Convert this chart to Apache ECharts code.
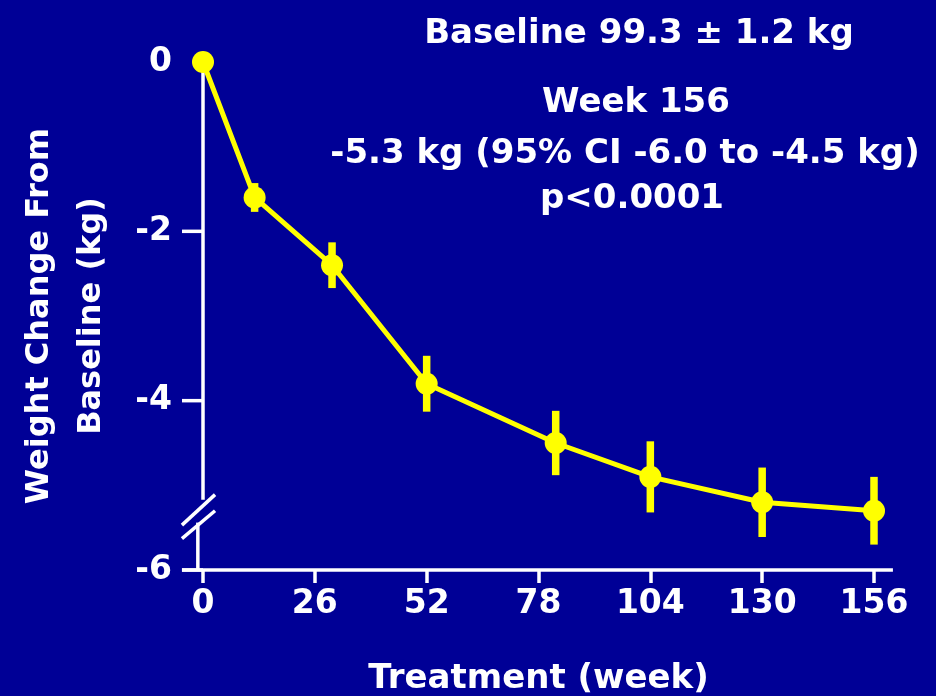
<!DOCTYPE html>
<html>
<head>
<meta charset="utf-8">
<script src="https://cdn.jsdelivr.net/npm/echarts@6/dist/echarts.min.js"></script>
<style>
  html, body { margin: 0; padding: 0; background: #000096; }
  #chart { width: 936px; height: 696px; }
</style>
</head>
<body>
<div id="chart"></div>
<script>
// Mean weight change from baseline (kg) by treatment week, with error bars
const weeks = [0, 12, 30, 52, 82, 104, 130, 156];
const weightChange = [0, -1.6, -2.4, -3.8, -4.5, -4.9, -5.2, -5.3];
const errorSize = [0, 0.17, 0.27, 0.33, 0.38, 0.42, 0.41, 0.40];

// Axis ticks
const xTicks = [0, 26, 52, 78, 104, 130, 156];
const yTicks = [0, -2, -4, -6];

// Annotation block
const notes = ['Baseline 99.3 \u00b1 1.2 kg', 'Week 156', '-5.3 kg (95% CI -6.0 to -4.5 kg)', 'p<0.0001'];

const BG = '#000096';
const FG = '#ffffff';
const YELLOW = '#ffff00';
const FONT = "'DejaVu Sans', sans-serif";

const chart = echarts.init(document.getElementById('chart'), null, { renderer: 'canvas' });

const lineData = weeks.map((w, i) => [w, weightChange[i]]);
const errData = weeks.map((w, i) => [w, weightChange[i], errorSize[i]]).filter(d => d[2] > 0);

// White axis frame with a break in the y axis just above -6
function renderFrame(params, api) {
  const c = (x, y) => api.coord([x, y]);
  const seg = (a, b) => ({
    type: 'line',
    shape: { x1: a[0], y1: a[1], x2: b[0], y2: b[1] },
    style: { stroke: FG, lineWidth: 3.5, lineCap: 'butt' }
  });
  const children = [
    seg(c(-4.9, -6), c(160.4, -6)),          // x axis line
    seg(c(0, 0), c(0, -5.17)),               // y axis above the break
    seg(c(-4.9, -5.47), c(2.8, -5.11)),      // break mark
    seg(c(-4.9, -5.63), c(2.8, -5.30)),      // break mark
    seg(c(-1.2, -5.44), c(-1.2, -6))         // y axis below the break
  ];
  yTicks.filter(v => v !== 0).forEach(v => {
    const p = c(0, v);
    children.push(seg([p[0] - 21, p[1]], [p[0], p[1]]));
  });
  return { type: 'group', children };
}

function renderError(params, api) {
  const x = api.value(0), y = api.value(1), e = api.value(2);
  const top = api.coord([x, y + e]);
  const bot = api.coord([x, y - e]);
  const w = 7.5;
  return {
    type: 'rect',
    shape: { x: top[0] - w / 2, y: top[1], width: w, height: bot[1] - top[1] },
    style: { fill: YELLOW }
  };
}

const noteX = [639, 636, 625, 632];
const noteY = [34, 103, 154, 199];

const option = {
  backgroundColor: BG,
  animation: false,
  grid: { left: 203, right: 62, top: 62, bottom: 126, containLabel: false, outerBoundsMode: 'none' },
  xAxis: {
    type: 'value',
    min: xTicks[0],
    max: xTicks[xTicks.length - 1],
    interval: 26,
    axisLine: { show: false, onZero: false },
    axisTick: { show: true, length: 13, lineStyle: { color: FG, width: 3.5 } },
    splitLine: { show: false },
    axisLabel: { color: FG, fontFamily: FONT, fontWeight: 'bold', fontSize: 33, margin: 18 },
    name: 'Treatment (week)',
    nameLocation: 'middle',
    nameGap: 92,
    nameTextStyle: { color: FG, fontFamily: FONT, fontWeight: 'bold', fontSize: 34 }
  },
  yAxis: {
    type: 'value',
    min: yTicks[yTicks.length - 1],
    max: yTicks[0],
    interval: 2,
    axisLine: { show: false },
    axisTick: { show: false },
    splitLine: { show: false },
    axisLabel: { color: FG, fontFamily: FONT, fontWeight: 'bold', fontSize: 33, margin: 31 },
    name: 'Weight Change From\nBaseline (kg)',
    nameLocation: 'middle',
    nameRotate: 90,
    nameGap: 85,
    nameTextStyle: { color: FG, fontFamily: FONT, fontWeight: 'bold', fontSize: 32, lineHeight: 52 }
  },
  graphic: notes.map((t, i) => ({
    type: 'text',
    x: noteX[i],
    y: noteY[i],
    style: {
      text: t,
      fill: FG,
      font: 'bold 34px ' + FONT,
      textAlign: 'center',
      textVerticalAlign: 'middle'
    }
  })),
  series: [
    {
      type: 'custom',
      renderItem: renderFrame,
      data: [[0, 0]],
      clip: false,
      silent: true,
      z: 1
    },
    {
      type: 'custom',
      renderItem: renderError,
      data: errData,
      clip: false,
      silent: true,
      z: 2
    },
    {
      type: 'line',
      data: lineData,
      symbol: 'circle',
      symbolSize: 22,
      showAllSymbol: true,
      lineStyle: { color: YELLOW, width: 5 },
      itemStyle: { color: YELLOW },
      z: 3
    }
  ]
};

chart.setOption(option);
</script>
</body>
</html>
